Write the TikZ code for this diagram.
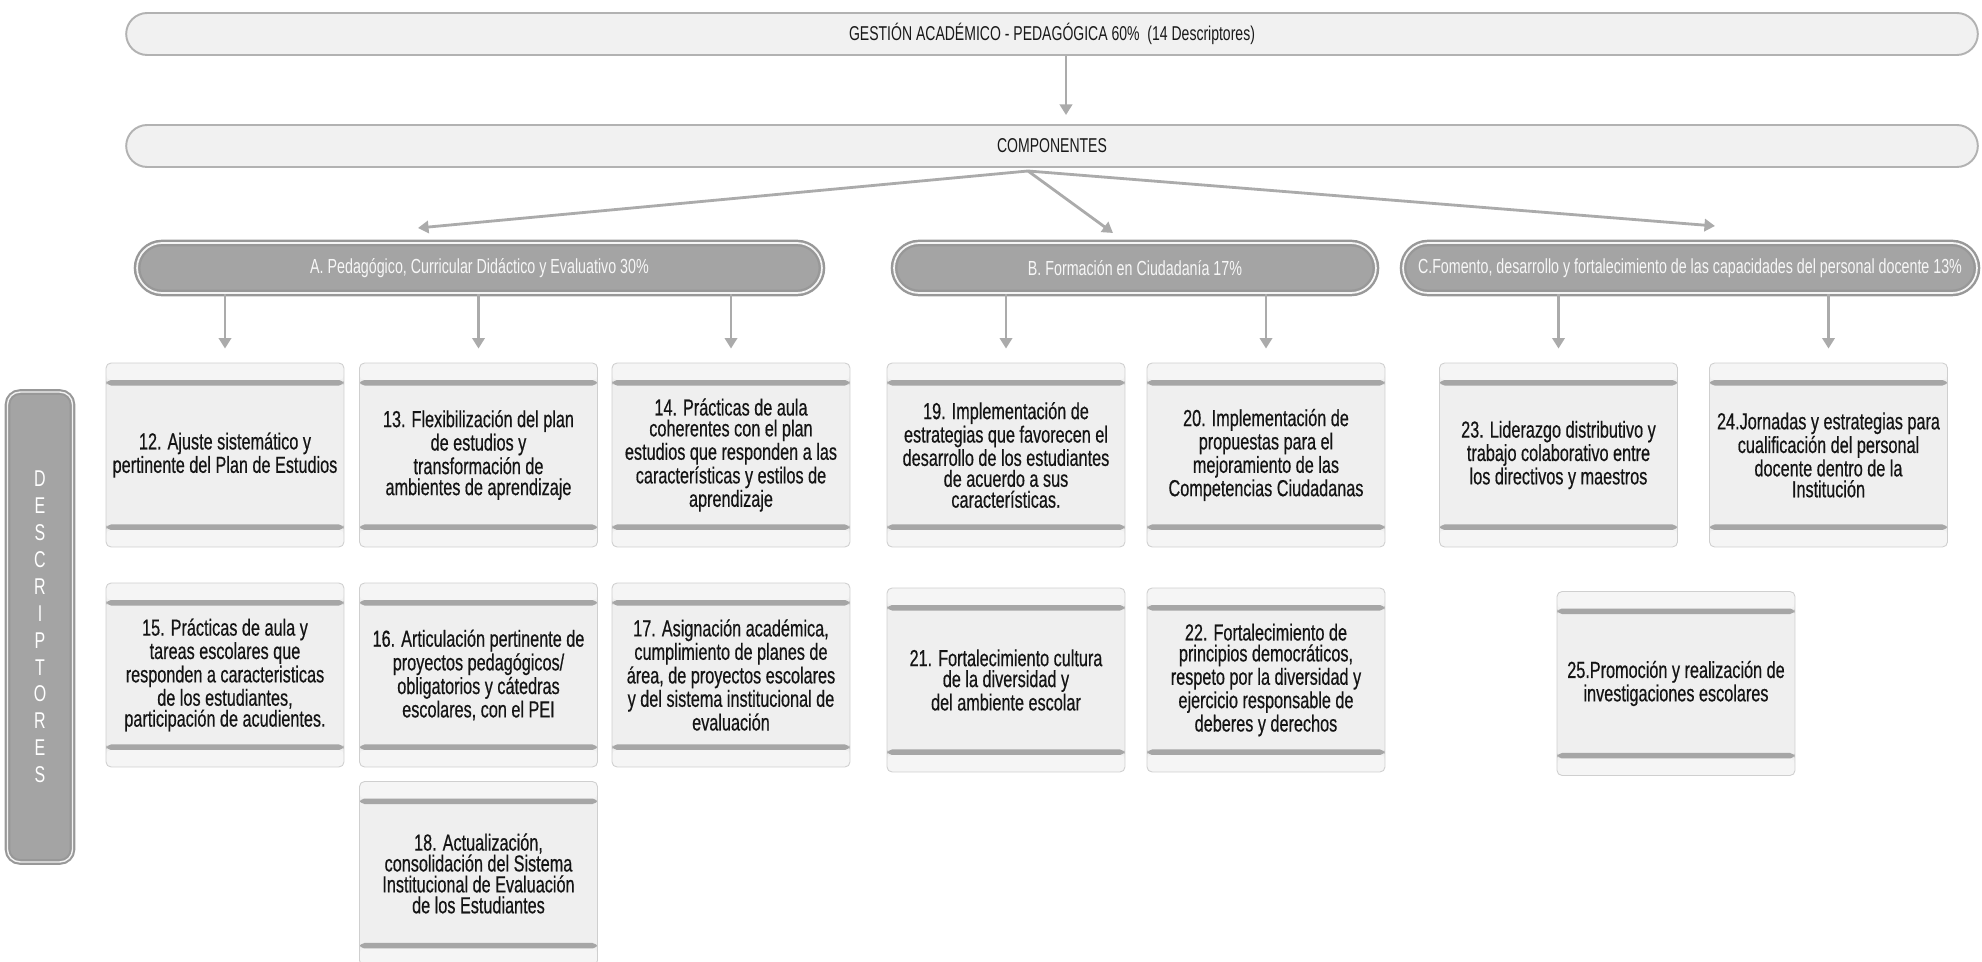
\documentclass[tikz,border=0pt]{standalone}
\usepackage{fontspec}
\setmainfont{Liberation Sans}[FakeStretch=0.70]
\newfontfamily\gruesa{Liberation Sans}[FakeStretch=0.70, FakeBold=0.5]
\usepackage{tikz}
\usetikzlibrary{arrows.meta}
\usetikzlibrary{calc}

\definecolor{boxfill}{HTML}{EFEFEF}
\definecolor{capfill}{HTML}{F5F5F5}
\definecolor{boxedge}{HTML}{CFCFCF}
\definecolor{bandgray}{HTML}{A6A6A6}
\definecolor{headgray}{HTML}{A4A4A4}
\definecolor{headedge}{HTML}{989898}
\definecolor{barfill}{HTML}{F1F1F1}
\definecolor{baredge}{HTML}{B2B2B2}
\definecolor{arrgray}{HTML}{ABABAB}

\newcommand{\fdesc}{\gruesa\fontsize{13.2}{11.9}\selectfont}
\newcommand{\fhead}{\fontsize{11.6}{12}\selectfont}
\newcommand{\fbar}{\fontsize{11.4}{12}\selectfont}
\newcommand{\fcol}{\fontsize{13}{15.3}\selectfont}

\begin{document}
\begin{tikzpicture}[x=0.02cm, y=-0.02cm,
	barra/.style={rectangle, rounded corners=0.42cm, fill=barfill, draw=baredge, line width=1.1pt, minimum width=37.04cm, minimum height=0.84cm, font=\fbar, text=black!90},
	cabeza/.style={rectangle, rounded corners=0.5cm, fill=headgray, draw=headedge, line width=1.4pt, double=white!92!gray, double distance=1pt, minimum height=1cm, font=\fhead, text=white!94!gray},
	columna/.style={rectangle, rounded corners=0.25cm, fill=headgray, draw=headedge, line width=1.2pt, double=white!90!gray, double distance=0.8pt, minimum width=1.3cm, minimum height=9.4cm},
	descriptor/.style={rectangle, rounded corners=0.1cm, fill=boxfill, draw=boxedge, line width=0.5pt, minimum width=4.76cm, minimum height=3.68cm, align=center, font=\fdesc, text=black!92,
		path picture={
			\fill[capfill] (path picture bounding box.north west) rectangle ([yshift=-0.34cm]path picture bounding box.north east);
			\fill[capfill] (path picture bounding box.south west) rectangle ([yshift=0.34cm]path picture bounding box.south east);
			\fill[bandgray] ([yshift=-0.34cm]path picture bounding box.north west) rectangle ([yshift=-0.45cm]path picture bounding box.north east);
			\fill[bandgray] ([yshift=0.34cm]path picture bounding box.south west) rectangle ([yshift=0.45cm]path picture bounding box.south east);
		}},
	flecha/.style={draw=arrgray, line width=1.6pt, -{Triangle[width=7pt,length=6pt]}}]
	\useasboundingbox (0,0) rectangle (1982,962);
	
	\node[barra] (gestion) at (1052,34) {GESTIÓN ACADÉMICO - PEDAGÓGICA 60\%\ \ (14 Descriptores)};
	\node[barra] (comp) at (1052,146) {COMPONENTES};
	\draw[flecha, shorten >=0.18cm] ([xshift=0.28cm]gestion.south) -- ([xshift=0.28cm]comp.north);
	
	\node[cabeza, minimum width=13.7cm] (pa) at (479.5,268) {A. Pedagógico, Curricular Didáctico y Evaluativo 30\%};
	\node[cabeza, minimum width=9.64cm] (pb) at (1135,268) {B. Formación en Ciudadanía 17\%};
	\node[cabeza, minimum width=11.48cm] (pc) at (1690,268) {C.Fomento, desarrollo y fortalecimiento de las capacidades del personal docente 13\%};
	
	\coordinate (fan) at (1028,171);
	\coordinate (ta) at (418,228);
	\coordinate (tb) at (1113,233);
	\coordinate (tc) at (1715,226);
	\draw[flecha] (fan) -- (ta);
	\draw[flecha] (fan) -- (tb);
	\draw[flecha] (fan) -- (tc);
	
	\node[columna] (columna) at (40,627) {};
	\node[font=\fcol, text=white, align=center] (letras) at (columna.center) {D\\E\\S\\C\\R\\I\\P\\T\\O\\R\\E\\S};
	
	\node[descriptor] (d12) at (225,455) {12. Ajuste sistemático y\\pertinente del Plan de Estudios};
	\node[descriptor] (d13) at (478.5,455) {13. Flexibilización del plan\\de estudios y\\transformación de\\ambientes de aprendizaje};
	\node[descriptor] (d14) at (731,455) {14. Prácticas de aula\\coherentes con el plan\\estudios que responden a las\\características y estilos de\\aprendizaje};
	\node[descriptor] (d19) at (1006,455) {19. Implementación de\\estrategias que favorecen el\\desarrollo de los estudiantes\\de acuerdo a sus\\características.};
	\node[descriptor] (d20) at (1266,455) {20. Implementación de\\propuestas para el\\mejoramiento de las\\Competencias Ciudadanas};
	\node[descriptor] (d23) at (1558.5,455) {23. Liderazgo distributivo y\\trabajo colaborativo entre\\los directivos y maestros};
	\node[descriptor] (d24) at (1828.5,455) {24.Jornadas y estrategias para\\cualificación del personal\\docente dentro de la\\Institución};
	
	\node[descriptor] (d15) at (225,675) {15. Prácticas de aula y\\tareas escolares que\\responden a caracteristicas\\de los estudiantes,\\participación de acudientes.};
	\node[descriptor] (d16) at (478.5,675) {16. Articulación pertinente de\\proyectos pedagógicos/\\obligatorios y cátedras\\escolares, con el PEI};
	\node[descriptor] (d17) at (731,675) {17. Asignación académica,\\cumplimiento de planes de\\área, de proyectos escolares\\y del sistema institucional de\\evaluación};
	\node[descriptor] (d21) at (1006,680) {21. Fortalecimiento cultura\\de la diversidad y\\del ambiente escolar};
	\node[descriptor] (d22) at (1266,680) {22. Fortalecimiento de\\principios democráticos,\\respeto por la diversidad y\\ejercicio responsable de\\deberes y derechos};
	\node[descriptor] (d25) at (1676,683.5) {25.Promoción y realización de\\investigaciones escolares};
	
	\node[descriptor] (d18) at (478.5,873.5) {18. Actualización,\\consolidación del Sistema\\Institucional de Evaluación\\de los Estudiantes};
	
	\draw[flecha, shorten >=0.28cm] (pa.south -| d12.north) -- (d12.north);
	\draw[flecha, shorten >=0.28cm] (pa.south -| d13.north) -- (d13.north);
	\draw[flecha, shorten >=0.28cm] (pa.south -| d14.north) -- (d14.north);
	\draw[flecha, shorten >=0.28cm] (pb.south -| d19.north) -- (d19.north);
	\draw[flecha, shorten >=0.28cm] (pb.south -| d20.north) -- (d20.north);
	\draw[flecha, shorten >=0.28cm] (pc.south -| d23.north) -- (d23.north);
	\draw[flecha, shorten >=0.28cm] (pc.south -| d24.north) -- (d24.north);
\end{tikzpicture}
\end{document}
